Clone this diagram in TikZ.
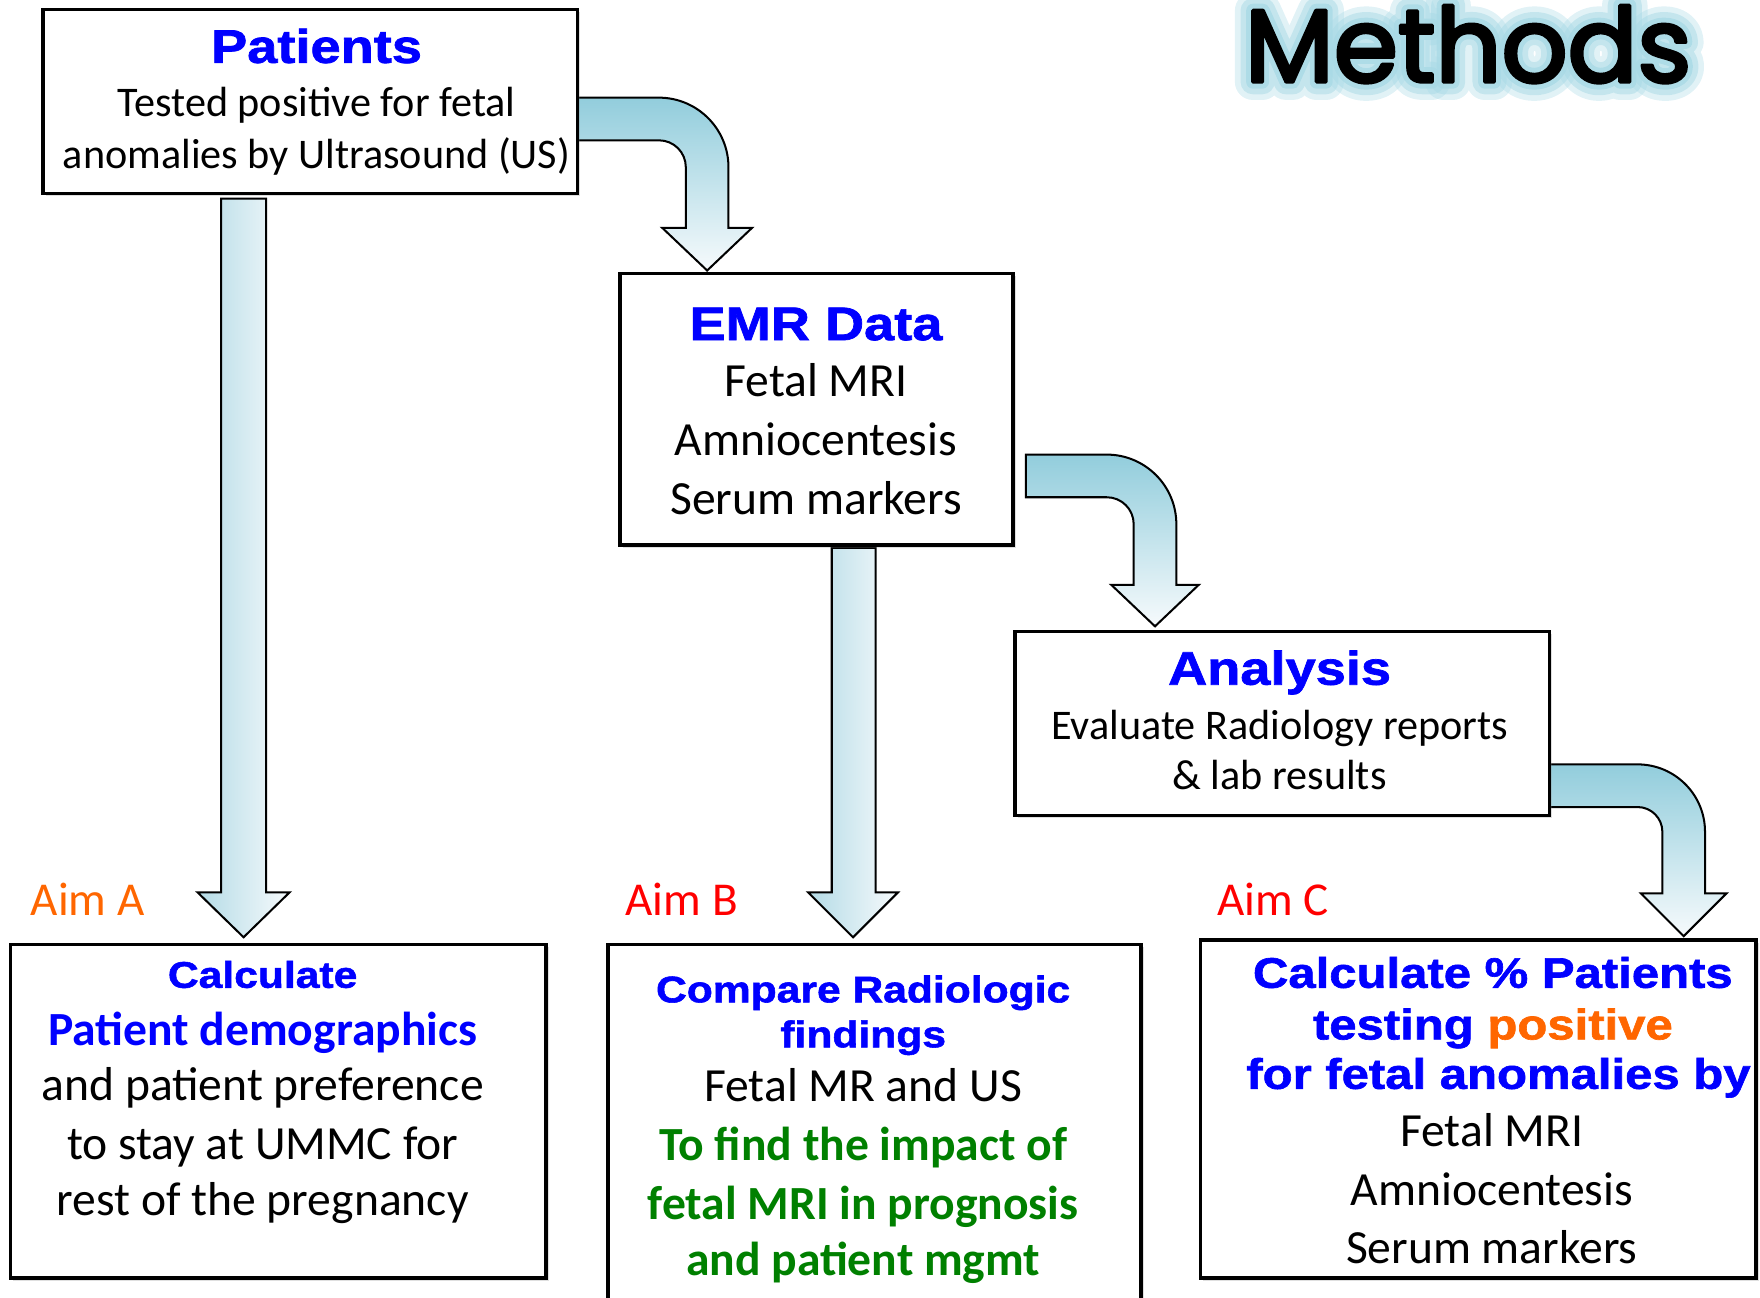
\documentclass[tikz,border=0pt]{standalone}
\usepackage{fontspec}
\setmainfont{Carlito}
\newfontfamily\heavy{Liberation Sans Bold}[FakeStretch=1.15,FakeBold=1.5]
\newfontfamily\comic{Poppins}
\usetikzlibrary{shadows}
\definecolor{ablue}{RGB}{0,0,255}
\definecolor{agreen}{RGB}{0,128,0}
\definecolor{aorange}{RGB}{255,102,0}
\definecolor{ared}{RGB}{255,0,0}
\definecolor{arrowtop}{RGB}{146,205,220}
\definecolor{arrowbot}{RGB}{246,250,252}
\definecolor{arrowleft}{RGB}{180,219,230}
\definecolor{glow}{RGB}{168,216,230}
% outlined text: #1 render mode, #2 line width (bp), #3 stroke colour (rgb)
\newcommand\outltext[4]{\special{pdf:literal direct #1 Tr #2 w 1 j 1 J #3 RG}#4\special{pdf:literal direct 0 Tr}}
\tikzset{
  box/.style={draw=black, line width=1.6pt, fill=white, inner sep=0pt,
    drop shadow={opacity=0.25, shadow xshift=1.2pt, shadow yshift=-1.2pt}},
  sarrow/.style={draw=black, line width=0.9pt, line join=miter, left color=arrowleft, right color=arrowbot},
  carrow/.style={draw=black, line width=0.9pt, line join=miter, top color=arrowtop, bottom color=arrowbot},
  txt/.style={anchor=base, inner sep=0pt},
  body/.style={txt, font=\fontsize{18.8}{22}\selectfont},
  big/.style={txt, font=\fontsize{21.2}{25}\selectfont},
  bigbold/.style={txt, font=\fontsize{21.2}{25}\selectfont\bfseries},
  ttl/.style={txt, text=ablue, font=\heavy\fontsize{21}{25}\selectfont},
  sub/.style={txt, text=ablue, font=\heavy\fontsize{16.5}{20}\selectfont},
  subc/.style={txt, text=ablue, font=\heavy\fontsize{19}{23}\selectfont},
  aim/.style={anchor=base west, inner sep=0pt, font=\fontsize{21}{25}\selectfont},
  methods/.style={anchor=base, inner sep=0pt, font=\comic\fontsize{46}{50}\selectfont}
}
\begin{document}
\begin{tikzpicture}[x=0.5pt,y=-0.5pt]
\useasboundingbox (0,0) rectangle (1568,1156);

% ---- title with glow ----
\node[methods, text=glow, opacity=0.35] (glow1) at (1308,73) {\outltext{2}{16}{0.66 0.85 0.9}{Methods}};
\node[methods, text=glow, opacity=0.5] (glow2) at (1308,73) {\outltext{2}{11}{0.66 0.85 0.9}{Methods}};
\node[methods, text=glow, opacity=0.8] (glow3) at (1308,73) {\outltext{2}{6}{0.66 0.85 0.9}{Methods}};
\node[methods, text=black] (title) at (1308,73) {\outltext{2}{1.6}{0 0 0}{Methods}};

% ---- arrows ----
% straight arrow A (Patients -> Aim A)
\draw[sarrow] (197,177) -- (237,177) -- (237,795) -- (258,795) -- (217,835) -- (176,795) -- (197,795) -- cycle;
% straight arrow B (EMR -> Aim B)
\draw[sarrow] (741,488) -- (780,488) -- (780,795) -- (800,795) -- (760,835) -- (720,795) -- (741,795) -- cycle;
% curved arrow 1 (Patients -> EMR)
\draw[carrow] (510,87) -- (587,87) .. controls (621.2,87) and (649,114.8) .. (649,149)
  -- (649,203) -- (670,203) -- (630,241) -- (590,203) -- (611,203) -- (611,149)
  .. controls (611,135.7) and (600.3,125) .. (587,125) -- (510,125) -- cycle;
% curved arrow 2 (EMR -> Analysis)
\draw[carrow] (914,405) -- (986,405) .. controls (1020.2,405) and (1048,432.8) .. (1048,467)
  -- (1048,521) -- (1068,521) -- (1029,558) -- (990,521) -- (1010,521) -- (1010,467)
  .. controls (1010,453.7) and (999.3,443) .. (986,443) -- (914,443) -- cycle;
% curved arrow 3 (Analysis -> Aim C)
\draw[carrow] (1378,681) -- (1459,681) .. controls (1492.1,681) and (1519,707.9) .. (1519,741)
  -- (1519,796) -- (1538,796) -- (1500,834) -- (1462,796) -- (1481,796) -- (1481,741)
  .. controls (1481,728.9) and (1471.1,719) .. (1459,719) -- (1378,719) -- cycle;

% ---- boxes ----
\node[box, minimum width=238pt, minimum height=82pt] (pat) at (276.5,90.5) {};
\node[box, minimum width=175pt, minimum height=121pt] (emr) at (727.5,364.5) {};
\node[box, minimum width=238pt, minimum height=82pt] (ana) at (1142.5,644.5) {};
\node[box, minimum width=238.5pt, minimum height=148.5pt] (boxa) at (248,990) {};
\node[box, minimum width=237.5pt, minimum height=178.5pt] (boxb) at (779,1020) {};
\node[box, minimum width=247.5pt, minimum height=150.5pt] (boxc) at (1317,988) {};

% ---- Patients ----
\node[ttl] (patT) at (282,56) {Patients};
\node[body] (pat1) at (282,104) {Tested positive for fetal};
\node[body] (pat2) at (282,150) {anomalies by Ultrasound (US)};

% ---- EMR ----
\node[ttl] (emrT) at (727,303) {EMR Data};
\node[big] (emr1) at (727,353.5) {Fetal MRI};
\node[big] (emr2) at (727,405.5) {Amniocentesis};
\node[big] (emr3) at (727,458) {Serum markers};

% ---- Analysis ----
\node[ttl] (anaT) at (1140,610) {Analysis};
\node[body] (ana1) at (1140,658.5) {Evaluate Radiology reports};
\node[body] (ana2) at (1140,703.5) {\&\ lab results};

% ---- Aims ----
\node[aim, text=aorange] (aimA) at (27,816) {Aim A};
\node[aim, text=ared] (aimB) at (557,816) {Aim B};
\node[aim, text=ared] (aimC) at (1084,816) {Aim C};

% ---- Box A ----
\node[sub] (a0) at (234,880) {Calculate};
\node[bigbold, text=ablue] (a1) at (234,931) {Patient demographics};
\node[big] (a2) at (234,980) {and patient preference};
\node[big] (a3) at (234,1033) {to stay at UMMC for};
\node[big] (a4) at (234,1083) {rest of the pregnancy};

% ---- Box B ----
\node[sub] (b0) at (769,893) {Compare Radiologic};
\node[sub] (b1) at (769,933) {findings};
\node[big] (b2) at (769,981) {Fetal MR and US};
\node[bigbold, text=agreen] (b3) at (769,1034) {To find the impact of};
\node[bigbold, text=agreen] (b4) at (769,1086.5) {fetal MRI in prognosis};
\node[bigbold, text=agreen] (b5) at (769,1136) {and patient mgmt};

% ---- Box C ----
\node[subc] (c0) at (1330,880) {Calculate \% Patients};
\node[subc] (c1) at (1330,926) {testing \textcolor{aorange}{positive}};
\node[subc] (c2) at (1335,970) {for fetal anomalies by};
\node[big] (c3) at (1329,1021) {Fetal MRI};
\node[big] (c4) at (1329,1074) {Amniocentesis};
\node[big] (c5) at (1329,1126) {Serum markers};
\end{tikzpicture}
\end{document}
